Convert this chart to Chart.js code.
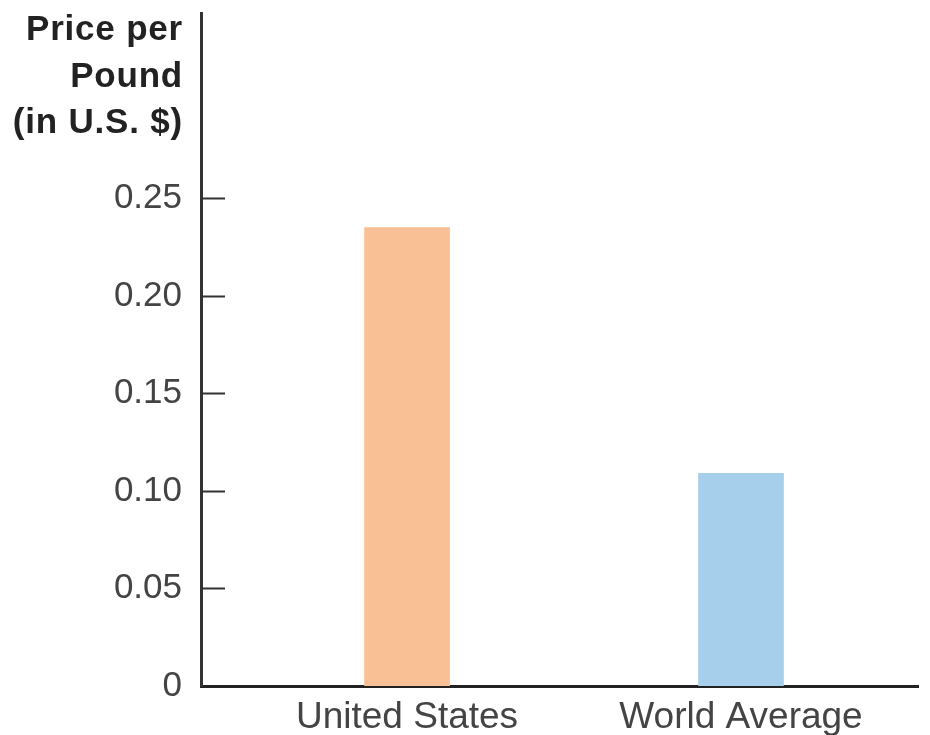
<!DOCTYPE html>
<html>
<head>
<meta charset="utf-8">
<script src="https://cdn.jsdelivr.net/npm/chart.js@4/dist/chart.umd.min.js"></script>
<style>
  body { margin: 0; background: #fff; }
</style>
</head>
<body>
<canvas id="Chart" width="930" height="735"></canvas>
<script>
// data
var categories = ['United States', 'World Average'];
var prices = [0.235, 0.109];
var barColors = ['#F9BF95', '#A5CFEA'];
var yTicks = [0, 0.05, 0.10, 0.15, 0.20, 0.25];
var titleLines = ['Price per', 'Pound', '(in U.S. $)'];

// short tick marks drawn inside the plot, plus the axis title at the top left
var extras = {
  id: 'extras',
  afterDraw: function (chart) {
    var ctx = chart.ctx;
    var y = chart.scales.y;
    var left = chart.chartArea.left;
    ctx.save();
    ctx.strokeStyle = '#333';
    ctx.lineWidth = 2;
    yTicks.forEach(function (v) {
      if (v === 0) return;
      var py = Math.round(y.getPixelForValue(v)) + 0.5;
      ctx.beginPath();
      ctx.moveTo(left, py);
      ctx.lineTo(left + 24, py);
      ctx.stroke();
    });
    ctx.fillStyle = '#222';
    ctx.font = 'bold 35px "Liberation Sans", Arial, sans-serif';
    ctx.letterSpacing = '0.8px';
    ctx.textAlign = 'right';
    ctx.textBaseline = 'alphabetic';
    titleLines.forEach(function (line, i) {
      ctx.fillText(line, 183, 40 + i * 46.5);
    });
    ctx.restore();
  }
};

var ctx = document.getElementById('Chart').getContext('2d');
var myChart = new Chart(ctx, {
  type: 'bar',
  data: {
    datasets: [{
      data: categories.map(function (c, i) { return { x: i, y: prices[i] }; }),
      backgroundColor: barColors,
      borderWidth: 0,
      barThickness: 85
    }]
  },
  options: {
    responsive: false,
    animation: false,
    layout: { padding: { top: 13, right: 12, left: 0, bottom: 0 } },
    plugins: {
      legend: { display: false },
      tooltip: { enabled: false }
    },
    scales: {
      x: {
        type: 'linear',
        offset: false,
        min: -0.617,
        max: 1.53,
        afterBuildTicks: function (scale) {
          scale.ticks = categories.map(function (c, i) { return { value: i }; });
        },
        afterFit: function (scale) {
          scale.height = 49;
          scale.paddingLeft = 0;
          scale.paddingRight = 0;
        },
        grid: { display: false, drawTicks: false },
        border: { display: true, color: '#222', width: 3 },
        ticks: {
          autoSkip: false,
          maxRotation: 0,
          padding: 10,
          color: '#444',
          font: { family: '"Liberation Sans", Arial, sans-serif', size: 37 },
          callback: function (v) { return categories[v]; }
        }
      },
      y: {
        min: 0,
        max: 0.345,
        afterBuildTicks: function (scale) {
          scale.ticks = yTicks.map(function (v) { return { value: v }; });
        },
        afterFit: function (scale) {
          scale.width = 201;
          scale.paddingTop = 0;
          scale.paddingBottom = 0;
        },
        grid: { display: false, drawTicks: false },
        border: { display: true, color: '#333', width: 3 },
        ticks: {
          padding: 19,
          color: '#444',
          font: { family: '"Liberation Sans", Arial, sans-serif', size: 35 },
          callback: function (v) { return v === 0 ? '0' : v.toFixed(2); }
        }
      }
    }
  },
  plugins: [extras]
});
</script>
</body>
</html>
